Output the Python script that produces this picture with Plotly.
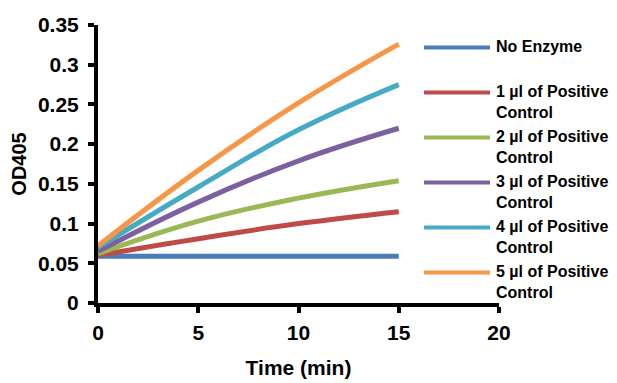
import plotly.graph_objects as go

# ---- data ----
time_min = [0, 5, 10, 15]
no_enzyme = [0.059, 0.059, 0.059, 0.059]
pc_1ul = [0.060, 0.081, 0.100, 0.115]
pc_2ul = [0.062, 0.103, 0.132, 0.154]
pc_3ul = [0.065, 0.127, 0.179, 0.220]
pc_4ul = [0.070, 0.146, 0.218, 0.275]
pc_5ul = [0.072, 0.167, 0.252, 0.326]

series_names = [
    "No Enzyme",
    "1 µl of Positive<br>Control",
    "2 µl of Positive<br>Control",
    "3 µl of Positive<br>Control",
    "4 µl of Positive<br>Control",
    "5 µl of Positive<br>Control",
]
series_values = [no_enzyme, pc_1ul, pc_2ul, pc_3ul, pc_4ul, pc_5ul]
colors = ["#4A7EBB", "#BE4B48", "#98B954", "#7D60A0", "#46AAC5", "#F79646"]

y_tickvals = [0, 0.05, 0.1, 0.15, 0.2, 0.25, 0.3, 0.35]
y_ticktext = ["0", "0.05", "0.1", "0.15", "0.2", "0.25", "0.3", "0.35"]
x_tickvals = [0, 5, 10, 15, 20]

# ---- layout geometry (pixels, page body has an 8px margin) ----
OFF = 8
W, H = 617 - OFF, 383 - OFF
L, T = 98 - OFF, 25 - OFF
PW, PH = 401, 278
R = W - L - PW
B = H - T - PH

def px_x(px):
    return (px - OFF - L) / PW

def px_y(py):
    return (T + PH - (py - OFF)) / PH

font_family = "Liberation Sans, Arial, sans-serif"

fig = go.Figure()
for name, vals, col in zip(series_names, series_values, colors):
    fig.add_trace(go.Scatter(
        x=time_min, y=vals, mode="lines", name=name.replace("<br>", " "),
        line=dict(color=col, width=5, shape="spline", smoothing=1.2),
        showlegend=False,
    ))

# manual legend (long line samples as in the reference)
legend_top = 47.5
legend_step = 45
shapes = []
annotations = []
for i, (name, col) in enumerate(zip(series_names, colors)):
    yy = legend_top + i * legend_step
    shapes.append(dict(
        type="line", xref="paper", yref="paper",
        x0=px_x(424), x1=px_x(490), y0=px_y(yy), y1=px_y(yy),
        line=dict(color=col, width=4),
    ))
    annotations.append(dict(
        xref="paper", yref="paper", x=px_x(495), y=px_y(yy - 10.5),
        xanchor="left", yanchor="top", align="left", showarrow=False,
        text="<b>" + name.replace("<br>", "</b><br><b>") + "</b>",
        font=dict(family=font_family, size=16, color="black"),
        borderpad=0,
    ))

fig.update_layout(
    width=W, height=H,
    margin=dict(l=L, r=R, t=T, b=B, autoexpand=False),
    paper_bgcolor="white", plot_bgcolor="white",
    font=dict(family=font_family, color="black"),
    shapes=shapes, annotations=annotations,
    showlegend=False,
)
fig.update_xaxes(
    range=[0, 20], tickvals=x_tickvals, ticks="outside", ticklen=6,
    tickwidth=4, tickcolor="black", showline=True, linewidth=4,
    linecolor="black", showgrid=False, zeroline=False,
    ticklabelstandoff=2,
    tickfont=dict(family=font_family, size=21, color="black", weight="bold"),
    title=dict(text="<b>Time (min)</b>", font=dict(family=font_family, size=21), standoff=18),
)
fig.update_yaxes(
    range=[0, 0.35], tickvals=y_tickvals, ticktext=y_ticktext, ticks="outside",
    ticklen=6, tickwidth=4, tickcolor="black", showline=True, linewidth=4,
    linecolor="black", showgrid=False, zeroline=False,
    ticklabelstandoff=5,
    tickfont=dict(family=font_family, size=21, color="black", weight="bold"),
    title=dict(text="<b>OD405</b>", font=dict(family=font_family, size=20), standoff=21),
)

fig.write_html("out.html")
